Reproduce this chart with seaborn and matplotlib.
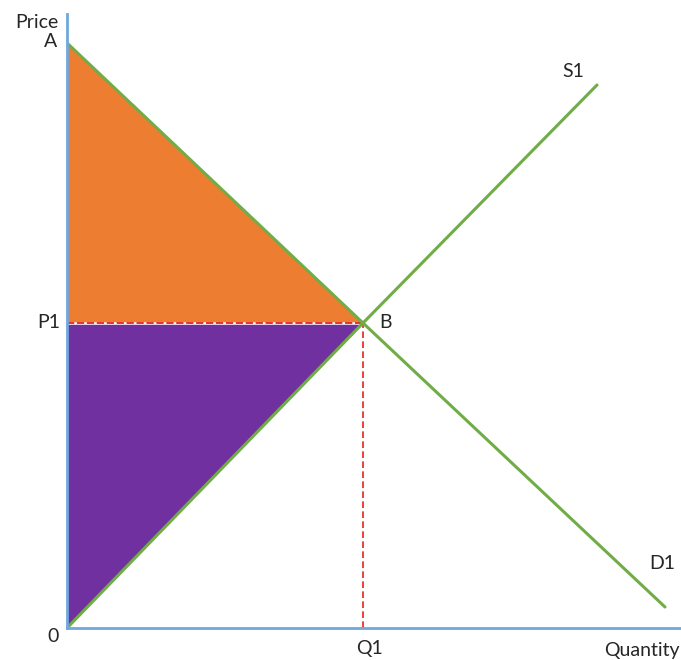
import matplotlib
matplotlib.use("Agg")
import matplotlib.pyplot as plt
import seaborn as sns
import pandas as pd

sns.set_theme(style="white")
plt.rcParams['font.family'] = ['Lato', 'DejaVu Sans']

# Data (arbitrary units)
demand_q = [0, 296, 598]
demand_p = [585, 305, 21]
supply_q = [0, 296, 530]
supply_p = [0, 305, 543]
eq_q, eq_p = 296, 305
price_max = 585

green = "#70AD47"
orange = "#ED7D31"
purple = "#7030A0"
blue = "#6FA8DC"
txt = "#262626"

fig = plt.figure(figsize=(6.81, 6.60), dpi=100)
ax = fig.add_axes([67/681, 32/660, 614/681, 614/660])
ax.set_xlim(0, 614)
ax.set_ylim(0, 614)

# Surplus areas
ax.fill([0, 0, eq_q], [price_max, eq_p, eq_p], color=orange, lw=0, zorder=1)
ax.fill([0, 0, eq_q], [0, eq_p, eq_p], color=purple, lw=0, zorder=1)

# Dashed guide lines
ax.plot([0, eq_q], [eq_p, eq_p], color="white", lw=1.8, zorder=2)
ax.plot([0, eq_q], [eq_p, eq_p], color="#E8231B", lw=1.3, ls=(0, (4, 1.5)), zorder=3)
ax.plot([eq_q, eq_q], [0, eq_p], color="#E8231B", lw=1.2, ls=(0, (4, 2)), zorder=3)

df_d = pd.DataFrame({"q": demand_q, "p": demand_p})
df_s = pd.DataFrame({"q": supply_q, "p": supply_p})
sns.lineplot(data=df_d, x="q", y="p", ax=ax, color=green, lw=2.2, sort=False, zorder=4)
sns.lineplot(data=df_s, x="q", y="p", ax=ax, color=green, lw=2.2, sort=False, zorder=4)

for s in ["top", "right"]:
    ax.spines[s].set_visible(False)
for s in ["left", "bottom"]:
    ax.spines[s].set_color(blue)
    ax.spines[s].set_linewidth(2)
    ax.spines[s].set_zorder(5)
ax.set_xticks([])
ax.set_yticks([])
ax.set_xlabel("")
ax.set_ylabel("")

fs = 14
ax.annotate("Price", xy=(0, 614), xytext=(-6, -6), textcoords="offset points",
            ha="right", va="center", fontsize=fs, color=txt, annotation_clip=False)
ax.annotate("A", xy=(0, price_max), xytext=(-7, 1), textcoords="offset points",
            ha="right", va="center", fontsize=fs, color=txt, annotation_clip=False)
ax.annotate("P1", xy=(0, eq_p), xytext=(-5, 0), textcoords="offset points",
            ha="right", va="center", fontsize=fs, color=txt, annotation_clip=False)
ax.annotate("0", xy=(0, 0), xytext=(-6, -6), textcoords="offset points",
            ha="right", va="center", fontsize=fs, color=txt, annotation_clip=False)
ax.annotate("Q1", xy=(eq_q, 0), xytext=(5, -15), textcoords="offset points",
            ha="center", va="center", fontsize=fs, color=txt, annotation_clip=False)
ax.annotate("Quantity", xy=(614, 0), xytext=(-1, -16), textcoords="offset points",
            ha="right", va="center", fontsize=fs, color=txt, annotation_clip=False)
ax.annotate("B", xy=(eq_q, eq_p), xytext=(16, 0), textcoords="offset points",
            ha="center", va="center", fontsize=fs, color=txt)
ax.annotate("S1", xy=(supply_q[-1], supply_p[-1]), xytext=(-17, 10), textcoords="offset points",
            ha="center", va="center", fontsize=fs, color=txt)
ax.annotate("D1", xy=(demand_q[-1], demand_p[-1]), xytext=(-2, 31), textcoords="offset points",
            ha="center", va="center", fontsize=fs, color=txt)

fig.savefig("out.png", dpi=100)
